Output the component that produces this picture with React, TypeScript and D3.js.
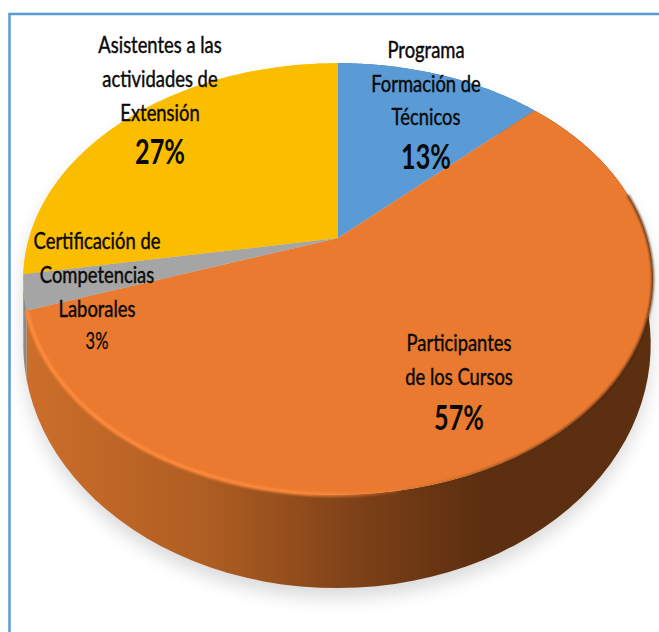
import React from "react";
import * as d3 from "d3";

const categories = ["Programa Formación de Técnicos", "Participantes de los Cursos", "Certificación de Competencias Laborales", "Asistentes a las actividades de Extensión"];
const values = [12.7, 56.5, 2.6, 27.49];
const colors = ["#5b9bd5", "#ea7a30", "#a5a5a5", "#fbbd00"];
const wallColors = ["#3f6f9b", "#b5601f", "#8a8a8a", "#ffd000"];
const labelLines = [
  ["Programa", "Formación de", "Técnicos"],
  ["Participantes", "de los Cursos"],
  ["Certificación de", "Competencias", "Laborales"],
  ["Asistentes a las", "actividades de", "Extensión"],
];
const labelAnchors: [number, number][] = [[426, 50], [459, 343], [97, 241], [160, 45]];
const lineSteps = [33.5, 33.5, 34, 34];
const pctOffsets = [40, 41, 32, 39];
const pctSizes = [35, 35, 23, 35];

const W = 659, H = 632;
const top = { cx: 338, ay: 238, rx: 309, ry: 208, k: 0.19 };
const bottom = { cx: 337, ay: 298, rx: 308, ry: 235, k: 0.19 };
type P = typeof top;

const proj = (p: P, a: number): [number, number] => {
  const u = Math.sin(a), v = Math.cos(a), w = 1 + p.k * v;
  return [p.cx + (p.rx * u) / w, p.ay - (p.ry * v) / w];
};
const arcPts = (p: P, a0: number, a1: number) =>
  d3.range(0, 73).map((i) => proj(p, a0 + ((a1 - a0) * i) / 72));
const line = d3.line();

const slices = d3.pie<number>().sort(null)(values);
const full = arcPts(top, 0, Math.PI * 2).concat(arcPts(bottom, 0, Math.PI * 2));
const hull = d3.polygonHull(full)!;
const hullPath = line(hull) + "Z";

const wallOrder = [3, 2, 0, 1];
const FONT = "Lato,'Open Sans',sans-serif";
const textScale = 0.8;
const pctScale = 0.72;

export default function App() {
  const orange = slices[1];
  return (
    <svg width={W} height={H} style={{ position: "fixed", left: 0, top: 0, background: "#fff" }}>
      <defs>
        <linearGradient id="wall" gradientUnits="userSpaceOnUse" x1={30} x2={480} y1={0} y2={0}>
          <stop offset="0" stopColor="#cc6e2b" />
          <stop offset="0.4" stopColor="#ae5d22" />
          <stop offset="0.75" stopColor="#7a3f17" />
          <stop offset="1" stopColor="#5c2f10" />
        </linearGradient>
        <linearGradient id="rim" gradientUnits="userSpaceOnUse" x1={30} x2={420} y1={0} y2={0}>
          <stop offset="0" stopColor="#ff8a3a" stopOpacity={1} />
          <stop offset="0.7" stopColor="#ff8a3a" stopOpacity={0.9} />
          <stop offset="1" stopColor="#ff8a3a" stopOpacity={0} />
        </linearGradient>
        <linearGradient id="rimDark" gradientUnits="userSpaceOnUse" x1={400} x2={660} y1={0} y2={0}>
          <stop offset="0" stopColor="#5c2f10" stopOpacity={0} />
          <stop offset="0.5" stopColor="#5c2f10" stopOpacity={0.8} />
          <stop offset="1" stopColor="#4a260d" stopOpacity={1} />
        </linearGradient>
        <filter id="blur12" x="-10%" y="-10%" width="120%" height="120%"><feGaussianBlur stdDeviation={9} /></filter>
        <filter id="blur2" x="-10%" y="-10%" width="120%" height="120%"><feGaussianBlur stdDeviation={1} /></filter>
      </defs>

      <path d={"M9.5 632V14H659"} fill="none" stroke="#5b9bd5" strokeWidth={2.5} />

      <path d={hullPath} fill="#000" opacity={0.14} transform="translate(0,10)" filter="url(#blur12)" />

      {wallOrder.map((i) => {
        const s = slices[i];
        const pts = arcPts(top, s.startAngle, s.endAngle).concat(arcPts(bottom, s.startAngle, s.endAngle).reverse());
        return <path key={i} d={line(pts) + "Z"} fill={i === 1 ? "url(#wall)" : wallColors[i]} />;
      })}

      {slices.map((s, i) => {
        const pts: [number, number][] = [[top.cx, top.ay], ...arcPts(top, s.startAngle, s.endAngle)];
        return <path key={i} d={line(pts) + "Z"} fill={colors[i]} />;
      })}

      <path d={line(arcPts(top, orange.startAngle + 0.55, orange.endAngle - 0.02))!} fill="none" stroke="url(#rimDark)" strokeWidth={2} filter="url(#blur2)" />
      <path d={line(arcPts(top, Math.PI * 0.95, orange.endAngle))!} fill="none" stroke="url(#rim)" strokeWidth={4} filter="url(#blur2)" />

      {labelLines.map((lines, i) => {
        const [x, y] = labelAnchors[i];
        const lastY = y + (lines.length - 1) * lineSteps[i];
        return (
          <g key={i} textAnchor="middle" fill="#0a0a0a" fontFamily={FONT}>
            {lines.map((t, j) => (
              <text key={j} transform={`translate(${x},${y + j * lineSteps[i]}) scale(${textScale},1)`} dy="0.35em" fontSize={23} stroke="#0a0a0a" strokeWidth={0.45}>{t}</text>
            ))}
            <text transform={`translate(${x},${lastY + pctOffsets[i]}) scale(${pctScale},1)`} dy="0.35em" fontSize={pctSizes[i]} fontWeight={i === 2 ? 400 : 700} stroke={i === 2 ? "#0a0a0a" : "none"} strokeWidth={0.3}>
              {Math.round(values[i])}%
            </text>
          </g>
        );
      })}
    </svg>
  );
}
